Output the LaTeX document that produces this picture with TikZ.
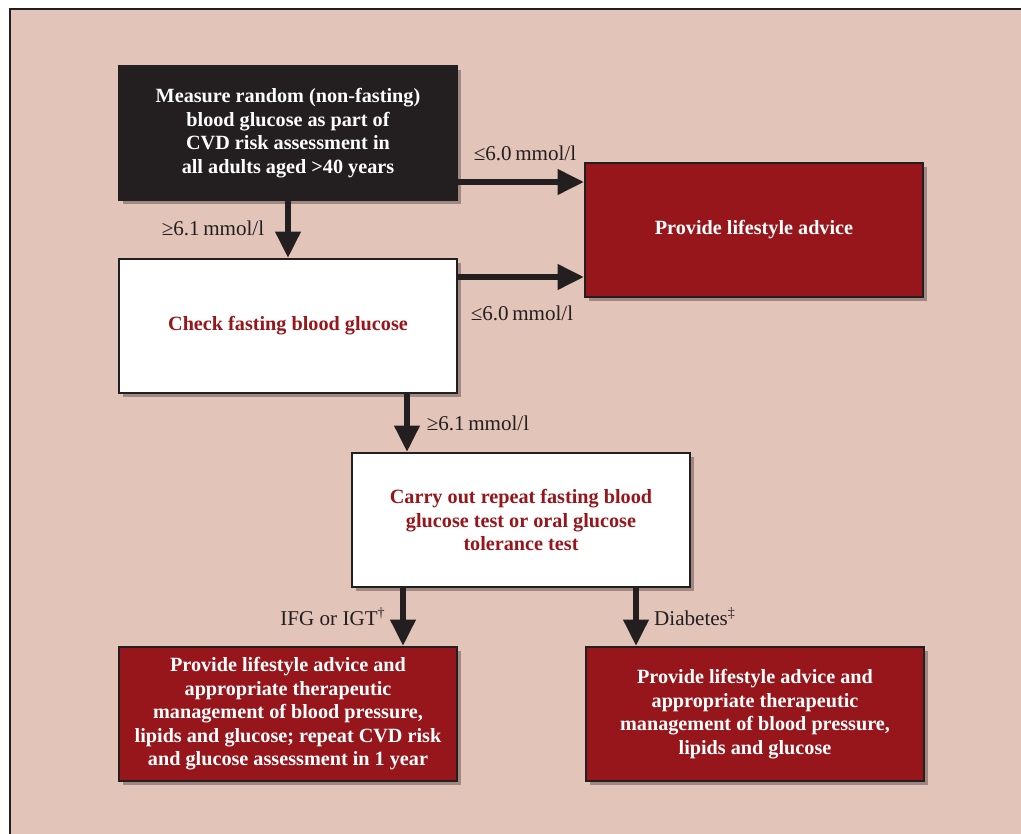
\documentclass[tikz,border=0pt]{standalone}
\usepackage{fontspec}
\setmainfont{Liberation Serif}
\usepackage{xcolor}
\usetikzlibrary{arrows.meta,shadows,positioning}
\definecolor{pinkbg}{RGB}{227,196,185}
\definecolor{boxred}{RGB}{150,22,27}
\definecolor{darkline}{RGB}{35,31,32}

\begin{document}
\begin{tikzpicture}[x=0.02cm,y=-0.02cm,
	box/.style={draw=darkline,line width=1.3pt,minimum width=6.76cm,minimum height=2.68cm,align=center,
		font=\bfseries\fontsize{11.5}{13.4}\selectfont,
		drop shadow={shadow xshift=2.5pt,shadow yshift=-2.5pt,opacity=0.3,fill=black}},
	redbox/.style={box,fill=boxred,text=white},
	whitebox/.style={box,fill=white,text=boxred},
	blackbox/.style={box,fill=darkline,text=white},
	flow/.style={line width=3.2pt,draw=darkline,-{Triangle[width=14pt,length=15pt]}},
	lbl/.style={font=\fontsize{12}{14}\selectfont,text=darkline}]
		\useasboundingbox (0,0) rectangle (1021,834);
		\fill[white] (0,0) rectangle (1021,834);
		\filldraw[fill=pinkbg,draw=darkline,line width=1.2pt] (10,9) rectangle (1040,850);
		% boxes
		\node[blackbox] (measure) at (288,133) {Measure random (non-fasting)\\blood glucose as part of\\CVD risk assessment in\\all adults aged >40 years};
		\node[redbox] (advice) at (754,230) {Provide lifestyle advice};
		\node[whitebox] (check) at (288,326) {Check fasting blood glucose};
		\node[whitebox] (repeat) at (521,520) {Carry out repeat fasting blood\\glucose test or oral glucose\\tolerance test};
		\node[redbox] (ifg) at (288,714) {Provide lifestyle advice and\\appropriate therapeutic\\management of blood pressure,\\lipids and glucose; repeat CVD risk\\and glucose assessment in 1 year};
		\node[redbox] (diab) at (755,714) {Provide lifestyle advice and\\appropriate therapeutic\\management of blood pressure,\\lipids and glucose};
		% arrows
		\draw[flow] (measure.east |- 0,182) -- (advice.west |- 0,182);
		\draw[flow] (measure) -- (check);
		\draw[flow] (check.east |- 0,277) -- (advice.west |- 0,277);
		\draw[flow] (check.south -| 407,0) -- (repeat.north -| 407,0);
		\draw[flow] (repeat.south -| 403,0) -- (ifg.north -| 403,0);
		\draw[flow] (repeat.south -| 636,0) -- (diab.north -| 636,0);
		% labels
		\node[lbl] (le1) at (525,153) {≤6.0\,mmol/l};
		\node[lbl] (ge1) at (213,228) {≥6.1\,mmol/l};
		\node[lbl] (le2) at (522,313) {≤6.0\,mmol/l};
		\node[lbl] (ge2) at (478,423) {≥6.1\,mmol/l};
		\node[lbl] (ifglbl) at (333,617) {IFG or IGT\textsuperscript{†}};
		\node[lbl] (diablbl) at (695,617) {Diabetes\textsuperscript{‡}};
	\end{tikzpicture}
\end{document}
